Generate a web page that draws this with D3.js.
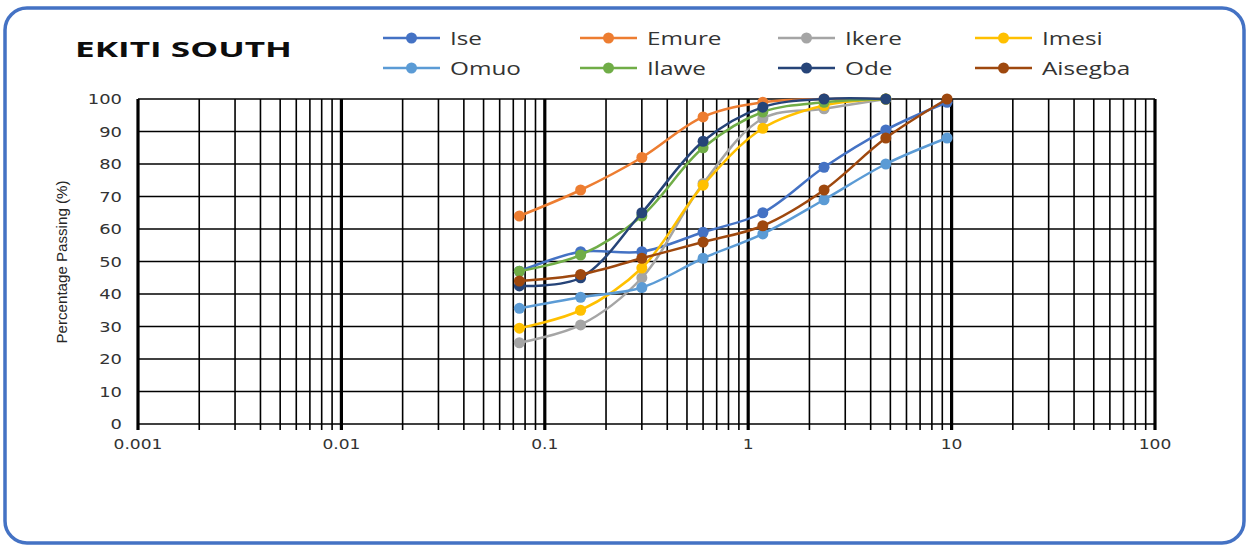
<!DOCTYPE html>
<html>
<head>
<meta charset="utf-8">
<script src="https://cdn.jsdelivr.net/npm/d3@7"></script>
<style>
  html, body { margin: 0; padding: 0; background: #fff; }
  svg { display: block; }
</style>
</head>
<body>
<svg id="chart" width="1250" height="547"></svg>
<script>
// Sieve sizes (mm) shared by every sample
const sieveSizes = [0.075, 0.15, 0.3, 0.6, 1.18, 2.36, 4.75, 9.5];

// Percentage passing per location
const ise     = [47, 53, 53, 59, 65, 79, 90.5, 99];
const emure   = [64, 72, 82, 94.5, 99, 100, 100];
const ikere   = [25, 30.5, 45, 74, 94, 97, 100];
const imesi   = [29.5, 35, 48, 73.5, 91, 98, 100];
const omuo    = [35.6, 39, 42, 51, 58.5, 69, 80, 88];
const ilawe   = [47, 52, 64, 85, 96, 99, 100];
const ode     = [42.5, 45, 65, 87, 97.5, 100, 100];
const aisegba = [44, 46, 51, 56, 61, 72, 88, 100];

const seriesNames  = ["Ise", "Emure", "Ikere", "Imesi", "Omuo", "Ilawe", "Ode", "Aisegba"];
const seriesValues = [ise, emure, ikere, imesi, omuo, ilawe, ode, aisegba];
const seriesColors = ["#4472C4", "#ED7D31", "#A5A5A5", "#FFC000", "#5B9BD5", "#70AD47", "#264478", "#9E480E"];

const xTickValues = [0.001, 0.01, 0.1, 1, 10, 100];
const xTickLabels = ["0.001", "0.01", "0.1", "1", "10", "100"];
const yTickValues = [0, 10, 20, 30, 40, 50, 60, 70, 80, 90, 100];

const titleText = "EKITI SOUTH";
const yTitleText = "Percentage Passing (%)";

const svg = d3.select("#chart");
const stretch = 1.28;   // horizontal widening of the lettering

// Rounded outer frame
svg.append("rect")
  .attr("x", 5).attr("y", 8).attr("width", 1239).attr("height", 535)
  .attr("rx", 22).attr("ry", 22)
  .attr("fill", "#fff").attr("stroke", "#4472C4").attr("stroke-width", 3.5);

const x = d3.scaleLog().domain([0.001, 100]).range([138, 1155]);
const y = d3.scaleLinear().domain([0, 100]).range([424, 99]);

// Gridlines: every integer step inside each decade
const minorVals = [];
for (let e = -3; e < 2; e++) {
  for (let m = 1; m <= 9; m++) minorVals.push(m * Math.pow(10, e));
}
minorVals.push(100);

const grid = svg.append("g");
grid.selectAll("line.h").data(yTickValues).join("line")
  .attr("x1", x(0.001)).attr("x2", x(100))
  .attr("y1", d => y(d)).attr("y2", d => y(d))
  .attr("stroke", "#000").attr("stroke-width", 1.5);

const isDecade = d => Math.abs(Math.log10(d) - Math.round(Math.log10(d))) < 1e-9;
grid.selectAll("line.v").data(minorVals).join("line")
  .attr("x1", d => x(d)).attr("x2", d => x(d))
  .attr("y1", y(100)).attr("y2", y(0) + 6)
  .attr("stroke", "#000")
  .attr("stroke-width", d => isDecade(d) ? 3.2 : 1.6);

// Y axis labels
const yAxis = svg.append("g");
yAxis.selectAll("text").data(yTickValues).join("text")
  .attr("transform", d => `translate(122,${y(d) + 5}) scale(${stretch},1)`)
  .attr("text-anchor", "end")
  .attr("font-family", "DejaVu Sans")
  .attr("font-size", 14)
  .attr("fill", "#333")
  .text(d => d);

// X axis labels
const xAxis = svg.append("g");
xAxis.selectAll("text").data(xTickValues).join("text")
  .attr("transform", d => `translate(${x(d)},449) scale(${stretch * 0.92},1)`)
  .attr("text-anchor", "middle")
  .attr("font-family", "DejaVu Sans")
  .attr("font-size", 14.5)
  .attr("fill", "#333")
  .text((d, i) => xTickLabels[i]);

// Y axis title
svg.append("text")
  .attr("transform", "translate(67,262) rotate(-90)")
  .attr("text-anchor", "middle")
  .attr("font-family", "Liberation Sans Narrow, Liberation Sans")
  .attr("font-size", 15)
  .attr("textLength", 163)
  .attr("lengthAdjust", "spacingAndGlyphs")
  .attr("fill", "#262626")
  .text(yTitleText);

// Chart title
svg.append("text")
  .attr("x", 75).attr("y", 57)
  .attr("font-family", "Open Sans")
  .attr("font-weight", "bold")
  .attr("font-size", 21.5)
  .attr("textLength", 217)
  .attr("lengthAdjust", "spacingAndGlyphs")
  .attr("fill", "#0d0d0d")
  .text(titleText);

// Series curves and markers
const line = d3.line()
  .x(d => x(d[0])).y(d => y(d[1]))
  .curve(d3.curveCatmullRom.alpha(0.5));

const plot = svg.append("g");
seriesNames.forEach((name, i) => {
  const pts = seriesValues[i].map((v, j) => [sieveSizes[j], v]);
  const g = plot.append("g");
  g.append("path")
    .attr("d", line(pts))
    .attr("fill", "none")
    .attr("stroke", seriesColors[i])
    .attr("stroke-width", 2.5);
  g.selectAll("circle").data(pts).join("circle")
    .attr("cx", d => x(d[0])).attr("cy", d => y(d[1]))
    .attr("r", 5.5)
    .attr("fill", seriesColors[i]);
});

// Legend: four columns, two rows
const legend = svg.append("g");
const colX = [383, 580, 778, 975];
const rowY = [38, 68];
seriesNames.forEach((name, i) => {
  const lx = colX[i % 4], ly = rowY[Math.floor(i / 4)];
  const g = legend.append("g");
  g.append("line")
    .attr("x1", lx).attr("x2", lx + 57).attr("y1", ly).attr("y2", ly)
    .attr("stroke", seriesColors[i]).attr("stroke-width", 2.5);
  g.append("circle")
    .attr("cx", lx + 28.5).attr("cy", ly).attr("r", 5.5)
    .attr("fill", seriesColors[i]);
  g.append("text")
    .attr("transform", `translate(${lx + 67},${ly + 7}) scale(${stretch},1)`)
    .attr("font-family", "Open Sans")
    .attr("font-size", 19)
    .attr("fill", "#333")
    .text(name);
});
</script>
</body>
</html>
